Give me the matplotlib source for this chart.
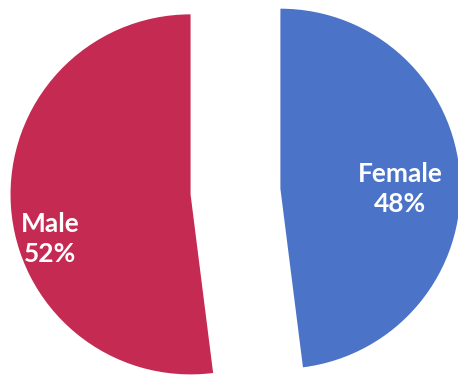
import matplotlib.pyplot as plt

# gender split
labels = ["Female", "Male"]
shares = [48, 52]
colors = ["#4B73C7", "#C52A52"]
explode = [0.25, 0.25]

# where the white labels sit (data units, pie radius = 1)
label_pos = [(0.915, 0.015), (-1.03, -0.265)]

fig = plt.figure(figsize=(4.58, 3.75), dpi=100)
ax = fig.add_axes([0, 0, 1, 1])

ax.pie(shares, colors=colors, explode=explode, startangle=90,
       counterclock=False, radius=1.0, center=(0, 0),
       wedgeprops=dict(linewidth=0))

for name, val, (x, y) in zip(labels, shares, label_pos):
    ax.text(x, y, f"{name}\n{val}%", color="white", fontsize=19,
            fontweight="bold", family=["Lato", "DejaVu Sans"],
            ha="center", va="center", linespacing=1.3)

ax.set_xlim(-1.308, 1.236)
ax.set_ylim(-1.019, 1.064)
ax.set_aspect("auto")
ax.axis("off")

fig.savefig("out.png", dpi=100, facecolor="white")
